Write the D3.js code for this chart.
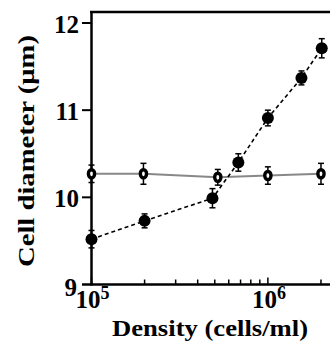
<!DOCTYPE html>
<html><head><meta charset="utf-8">
<script src="https://cdn.jsdelivr.net/npm/d3@7"></script>
<style>body{margin:0;background:#fff}svg{display:block}text{font-family:"Liberation Serif","Times New Roman",serif;font-weight:bold}</style>
</head><body><svg id="c" width="330" height="346"></svg>
<script>
const densityFilled = [1e5, 2e5, 4.85e5, 6.8e5, 1e6, 1.55e6, 2.02e6];
const diameterFilled = [9.52, 9.73, 9.99, 10.40, 10.91, 11.37, 11.71];
const errFilled = [0.1, 0.08, 0.11, 0.1, 0.09, 0.08, 0.11];
const densityOpen = [1e5, 1.97e5, 5.2e5, 1e6, 2e6];
const diameterOpen = [10.27, 10.27, 10.23, 10.25, 10.27];
const errOpen = [0.1, 0.12, 0.09, 0.1, 0.12];
const yTicks = [9, 10, 11, 12];
const xMajor = [1e5, 1e6];
const xMinor = [2e5,3e5,4e5,5e5,6e5,7e5,8e5,9e5,2e6];

const svg = d3.select("#c");
const x = d3.scaleLog().domain([1e5, 2.25e6]).range([91.5, 330]);
const y = d3.scaleLinear().domain([9, 12]).range([284.5, 23]);

svg.append("line").attr("x1",90).attr("x2",330).attr("y1",12).attr("y2",12).attr("stroke","#000").attr("stroke-width",2.5);
svg.append("line").attr("x1",91.5).attr("x2",91.5).attr("y1",11).attr("y2",285.5).attr("stroke","#000").attr("stroke-width",2.5);
svg.append("line").attr("x1",82).attr("x2",330).attr("y1",284.5).attr("y2",284.5).attr("stroke","#000").attr("stroke-width",2.5);

yTicks.forEach(t=>{
  if(t>9) svg.append("line").attr("x1",82).attr("x2",91).attr("y1",y(t)).attr("y2",y(t)).attr("stroke","#000").attr("stroke-width",2);
  svg.append("text").attr("x",t===9?77:79).attr("y",y(t)+(t===9?3:1)).attr("dy","0.35em").attr("text-anchor","end").attr("font-size",25).text(t);
});
xMinor.forEach(t=>{
  svg.append("line").attr("x1",x(t)).attr("x2",x(t)).attr("y1",284.5).attr("y2",279.5).attr("stroke","#000").attr("stroke-width",1.5);
});
xMajor.forEach(t=>{
  svg.append("line").attr("x1",x(t)).attr("x2",x(t)).attr("y1",284.5).attr("y2",277.5).attr("stroke","#000").attr("stroke-width",1.5);
  const g = svg.append("text").attr("x",x(t)+1).attr("y",308).attr("text-anchor","middle").attr("font-size",25);
  g.append("tspan").text("10");
  g.append("tspan").attr("dy",-9).attr("font-size",18).text(Math.round(Math.log10(t)));
});

const line = d3.line().x(d=>x(d[0])).y(d=>y(d[1]));
svg.append("path").datum(densityOpen.map((d,i)=>[d,diameterOpen[i]])).attr("d",line).attr("fill","none").attr("stroke","#888").attr("stroke-width",2);
svg.append("path").datum(densityFilled.map((d,i)=>[d,diameterFilled[i]])).attr("d",line).attr("fill","none").attr("stroke","#000").attr("stroke-width",1.6).attr("stroke-dasharray","4,3");

function errBars(xs, ys, es){
  xs.forEach((d,i)=>{
    const cx=x(d), y1=y(ys[i]+es[i]), y2=y(ys[i]-es[i]);
    svg.append("line").attr("x1",cx).attr("x2",cx).attr("y1",y1).attr("y2",y2).attr("stroke","#000").attr("stroke-width",1.5);
    [y1,y2].forEach(yy=>svg.append("line").attr("x1",cx-3).attr("x2",cx+3).attr("y1",yy).attr("y2",yy).attr("stroke","#000").attr("stroke-width",1.5));
  });
}
errBars(densityOpen, diameterOpen, errOpen);
errBars(densityFilled, diameterFilled, errFilled);

densityOpen.forEach((d,i)=>{
  svg.append("ellipse").attr("cx",x(d)).attr("cy",y(diameterOpen[i])).attr("rx",3.1).attr("ry",4.1).attr("fill","#fff").attr("stroke","#000").attr("stroke-width",3.4);
});
densityFilled.forEach((d,i)=>{
  svg.append("circle").attr("cx",x(d)).attr("cy",y(diameterFilled[i])).attr("r",6).attr("fill","#000");
});

svg.append("text").attr("x",112).attr("y",336).attr("font-size",24).attr("textLength",196).attr("lengthAdjust","spacingAndGlyphs").text("Density (cells/ml)");
svg.append("text").attr("transform","translate(34,267) rotate(-90)").attr("font-size",24).attr("textLength",232).attr("lengthAdjust","spacingAndGlyphs").text("Cell diameter (μm)");
</script></body></html>
